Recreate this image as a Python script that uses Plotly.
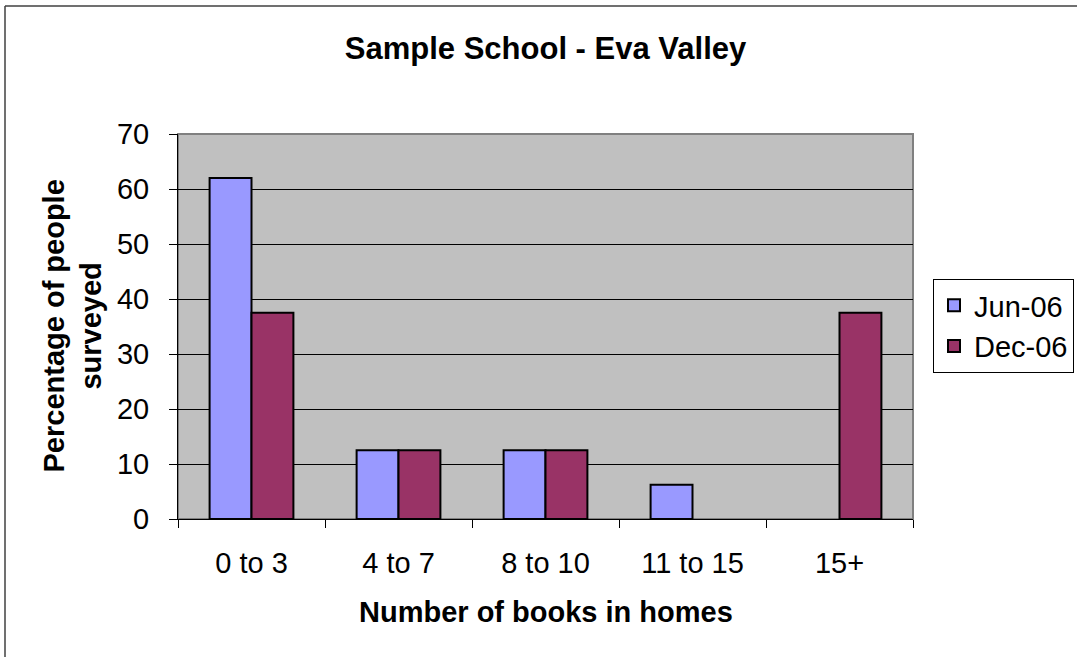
import plotly.graph_objects as go

categories = ["0 to 3", "4 to 7", "8 to 10", "11 to 15", "15+"]
jun_06 = [62, 12.5, 12.5, 6.25, 0]
dec_06 = [37.5, 12.5, 12.5, 0, 37.5]
series_names = ["Jun-06", "Dec-06"]
y_ticks = [0, 10, 20, 30, 40, 50, 60, 70]

FONT = "Liberation Sans, Arial, sans-serif"

def border_widths(values):
    return [2 if v != 0 else 0 for v in values]

fig = go.Figure()
fig.add_trace(go.Bar(x=categories, y=jun_06, name=series_names[0],
                     marker=dict(color="#9999FF",
                                 line=dict(color="black", width=border_widths(jun_06)))))
fig.add_trace(go.Bar(x=categories, y=dec_06, name=series_names[1],
                     marker=dict(color="#993366",
                                 line=dict(color="black", width=border_widths(dec_06)))))

W, H = 1077, 657
L, R, T, B = 178, 913, 134, 519

fig.update_layout(
    width=W, height=H,
    margin=dict(l=L, r=W - R, t=T, b=H - B, pad=0, autoexpand=False),
    paper_bgcolor="white",
    plot_bgcolor="#C0C0C0",
    font=dict(family=FONT, size=29, color="black"),
    barmode="group",
    bargap=0.43,
    bargroupgap=0,
    title=dict(text="<b>Sample School - Eva Valley</b>", x=0.5, xref="paper",
               y=1 - 48 / H, yref="container", yanchor="middle", xanchor="center",
               font=dict(size=31, family=FONT)),
    showlegend=True,
    legend=dict(x=(933 - L) / (R - L), xanchor="left", y=(B - 326) / (B - T), yanchor="middle",
                bordercolor="black", borderwidth=1, bgcolor="white",
                font=dict(size=29, family=FONT), itemwidth=30,
                tracegroupgap=0),
    xaxis=dict(type="category", showline=True, linecolor="black", linewidth=1,
               ticks="outside", tickson="boundaries", ticklen=8, tickcolor="black",
               tickfont=dict(size=29), ticklabelstandoff=18, showgrid=False,
               zeroline=False, fixedrange=True),
    yaxis=dict(range=[0, 70], tickvals=y_ticks, showline=True, linecolor="black", linewidth=1,
               ticks="outside", ticklen=8, tickcolor="black", tickfont=dict(size=29),
               ticklabelstandoff=14,
               showgrid=True, gridcolor="black", gridwidth=1, zeroline=False, fixedrange=True),
    annotations=[
        dict(text="<b>Percentage of people<br>surveyed</b>", xref="paper", yref="paper",
             x=(72 - L) / (R - L), y=0.5, xanchor="center", yanchor="middle", textangle=-90,
             showarrow=False, font=dict(size=29, family=FONT)),
        dict(text="<b>Number of books in homes</b>", xref="paper", yref="paper",
             x=0.5, y=-(612 - B) / (B - T), xanchor="center", yanchor="middle",
             showarrow=False, font=dict(size=29, family=FONT)),
    ],
    shapes=[
        dict(type="rect", xref="paper", yref="paper", x0=0, x1=1, y0=0, y1=1,
             line=dict(color="#808080", width=2), layer="below"),
        dict(type="line", xref="paper", yref="paper", x0=(5 - L) / (R - L), x1=(5 - L) / (R - L),
             y0=(B - 6) / (B - T), y1=-1, line=dict(color="#404040", width=1.5)),
        dict(type="line", xref="paper", yref="paper", x0=(5 - L) / (R - L), x1=2,
             y0=(B - 6) / (B - T), y1=(B - 6) / (B - T), line=dict(color="#404040", width=1.5)),
    ],
)

fig.write_html("out.html", config={"displayModeBar": False},
               post_script="document.body.style.margin='0';document.body.style.overflow='hidden';")
